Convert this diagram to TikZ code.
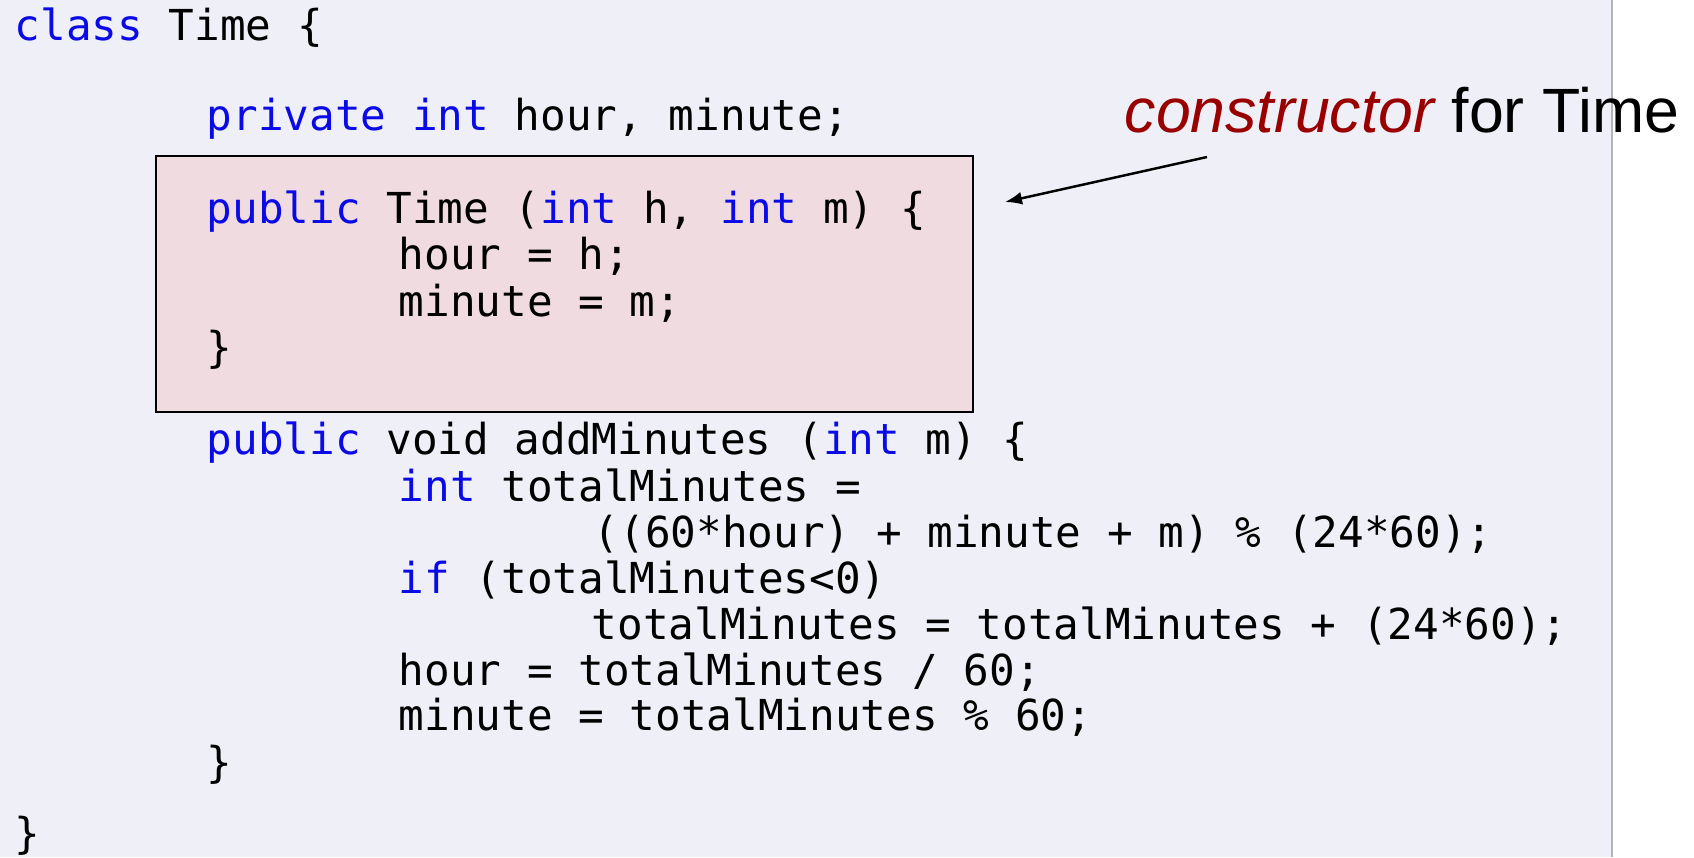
\documentclass[tikz,border=0pt]{standalone}
\usepackage{fontspec}
\usepackage{xcolor}
\usepackage{tikz}
\usetikzlibrary{arrows.meta,positioning}
\setmainfont{Liberation Sans}
\newfontfamily\codefont{DejaVu Sans Mono}
\definecolor{pagebg}{HTML}{EFEFF8}
\definecolor{ctorfill}{HTML}{F0DCE0}
\definecolor{kwblue}{HTML}{0A0AE6}
\definecolor{ctorred}{HTML}{990000}
\definecolor{rulegray}{HTML}{B4B4B8}
\newcommand{\kw}[1]{\textcolor{kwblue}{#1}}
\tikzset{
  codeline/.style={anchor=base west,inner sep=0pt,font=\codefont\fontsize{12.13}{14}\selectfont},
  ctorframe/.style={draw=black,line width=0.55pt,fill=ctorfill,inner sep=0pt,
    minimum width=8.157cm,minimum height=2.56cm}
}
\begin{document}
\begin{tikzpicture}[x=0.01cm,y=-0.01cm,>={Latex[length=1.7mm,width=1.3mm]}]
  \useasboundingbox (0,0) rectangle (1694,857);
  % slide background
  \fill[pagebg] (0,0) rectangle (1612,857);
  \draw[rulegray,line width=0.6pt] (1612,0) -- (1612,857);
  % constructor frame
  \node[ctorframe] (ctorbox) at (564.5,283.6) {};
  % class body
  \node[codeline] (cls)   at (14,40)   {\kw{class} Time \{};
  \node[codeline] (flds)  at (206,130) {\kw{private} \kw{int} hour, minute;};
  \node[codeline] (ctor)  at (206,223) {\kw{public} Time (\kw{int} h, \kw{int} m) \{};
  \node[codeline] (ctora) at (398,269) {hour = h;};
  \node[codeline] (ctorb) at (398,316) {minute = m;};
  \node[codeline] (ctorc) at (206,362) {\}};
  \node[codeline] (add)   at (206,454) {\kw{public} void addMinutes (\kw{int} m) \{};
  \node[codeline] (adda)  at (398,501) {\kw{int} totalMinutes =};
  \node[codeline] (addb)  at (593,547) {((60*hour) + minute + m) \% (24*60);};
  \node[codeline] (addc)  at (398,593) {\kw{if} (totalMinutes<0)};
  \node[codeline] (addd)  at (591,639) {totalMinutes = totalMinutes + (24*60);};
  \node[codeline] (adde)  at (398,685) {hour = totalMinutes / 60;};
  \node[codeline] (addf)  at (398,730) {minute = totalMinutes \% 60;};
  \node[codeline] (addg)  at (206,777) {\}};
  \node[codeline] (clsend) at (14,848) {\}};
  % callout
  \node[anchor=base west,inner sep=0pt,font=\fontsize{17.8}{20}\selectfont]
    (ctorlabel) at (1124,132) {\textcolor{ctorred}{\itshape constructor} for Time};
  \coordinate (ctorfoot) at (1207,157);
  \coordinate (ctortip) at (1005,202);
  \draw[->,line width=0.7pt] (ctorfoot) -- (ctortip);
\end{tikzpicture}
\end{document}
